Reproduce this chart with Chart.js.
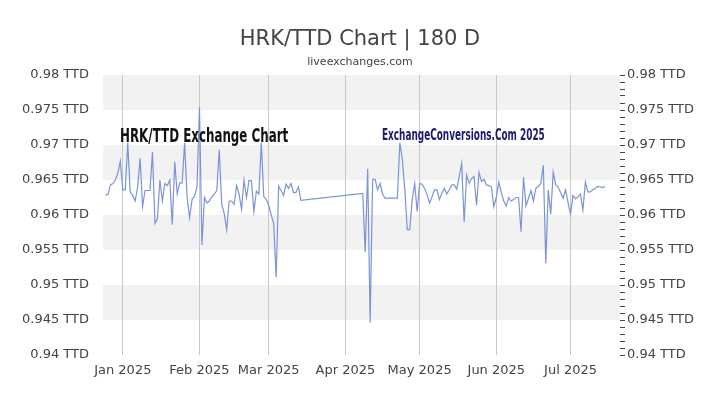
<!DOCTYPE html>
<html><head><meta charset="utf-8">
<script src="https://cdn.jsdelivr.net/npm/chart.js@4"></script>
<style>
body{margin:0;background:#fff;font-family:"DejaVu Sans",sans-serif}
#wrap{position:relative;width:720px;height:405px}
.t{position:absolute;left:0;width:720px;text-align:center;color:#444}
.wm{position:absolute;font-family:"DejaVu Sans Condensed","DejaVu Sans",sans-serif;font-weight:bold;transform:scaleX(.66);transform-origin:left}
</style></head><body>
<div id="wrap">
<canvas id="c" width="720" height="405"></canvas>
<div class="t" style="top:26px;font-size:21px">HRK/TTD Chart | 180 D</div>
<div class="t" style="top:55px;font-size:11px">liveexchanges.com</div>
<div class="wm" style="left:120px;top:123px;font-size:20px;color:#111">HRK/TTD Exchange Chart</div>
<div class="wm" style="left:382px;top:126px;font-size:15px;color:#1a1a6e">ExchangeConversions.Com 2025</div>
</div>
<script>
// ── Data ─────────────────────────────────────────────
const startDate = new Date(2024, 11, 24);
const dayCount  = 210;
const yTicks    = [0.94, 0.945, 0.95, 0.955, 0.96, 0.965, 0.97, 0.975, 0.98];

// Dec 24 .. Mar 14
const ratesA = [null,
  0.9629,0.9629,0.9643,0.9645,0.965,0.966,0.9677,
  0.9636,0.9636,0.9703,0.9633,0.9628,0.962,0.964,0.9681,0.9612,0.9635,0.9635,0.9635,0.969,0.9588,0.9595,0.965,0.962,0.9645,0.9642,0.965,0.9586,0.9676,0.963,0.9646,0.9646,0.9703,0.9625,0.9596,0.9622,0.9627,0.964,
  0.9754,0.9557,0.9625,0.9617,0.962,0.9626,0.963,0.9635,0.9693,0.9615,0.9602,0.9579,0.962,0.962,0.9615,0.9642,0.963,0.9608,0.965,0.9625,0.9649,0.9649,0.9605,0.9634,0.963,0.9703,0.9626,0.9622,
  0.9614,0.960,0.9588,0.9511,0.9641,0.9635,0.9628,0.9644,0.9638,0.9645,0.9632,0.9632,0.964,0.9621];
// Mar 15 .. Apr 7 : no quotes
const gapDays = 24;
// Apr 8 .. Apr 30
const ratesApr = [
  0.9631,0.9547,0.9666,0.9446,0.9651,0.9651,0.9636,0.9645,0.963,0.9624,0.9624,0.9624,0.9624,0.9624,0.9624,0.9703,0.968,0.9637,0.9579,0.9579,0.9622,0.9645,0.9605];
// May 1 .. Jul 15
const ratesMayJul = [
  0.9645,0.9644,0.9638,0.9629,0.9617,0.9626,0.9636,0.9636,0.9622,0.9631,
  0.9638,0.963,0.9636,0.9643,0.9643,0.9637,0.9655,0.9674,0.959,0.9657,
  0.9645,0.9652,0.9655,0.9614,0.9661,0.9648,0.9651,0.9643,0.9642,0.964,
  0.9612,0.9625,0.9647,0.9632,0.962,0.9613,0.9625,0.962,0.9622,0.9625,
  0.9625,0.9576,0.9654,0.9613,0.9624,0.9635,0.962,0.9638,0.9641,0.9645,
  0.9671,0.9531,0.9636,0.9601,0.9661,0.9643,0.964,0.9632,0.9624,0.9636,
  0.9618,0.9601,0.9628,0.9623,0.9626,0.963,0.9607,0.9647,0.9633,0.9633,
  0.9636,0.9638,0.9641,0.964,0.9639,0.9641];

const labels = [];
for (let i = 0; i < dayCount; i++) {
  const d = new Date(startDate); d.setDate(d.getDate() + i);
  labels.push(d);
}
const rates = ratesA.concat(new Array(gapDays).fill(null), ratesApr, ratesMayJul);
while (rates.length < dayCount) rates.push(null);
const monthName = d => d.toLocaleString('en-US', { month: 'short' }) + ' ' + d.getFullYear();

// ── Stripes plugin ───────────────────────────────────
const stripes = {
  id: 'stripes',
  beforeDraw(chart) {
    const { ctx, chartArea: a, scales: { y } } = chart;
    ctx.save(); ctx.fillStyle = '#f2f2f2';
    [0.975, 0.965, 0.955, 0.945].forEach(v => {
      const top = y.getPixelForValue(v + 0.005), bot = y.getPixelForValue(v);
      ctx.fillRect(a.left, top, a.right - a.left, bot - top);
    });
    ctx.restore();
  }
};

const tickFont = { size: 13, family: 'DejaVu Sans' };
const yLabel = v => {
  const r = Math.round(v * 1000);
  return r % 5 === 0 ? (+v.toFixed(3)) + ' TTD' : '';
};

new Chart(document.getElementById('c'), {
  type: 'line',
  data: { labels, datasets: [{
    data: rates, borderColor: '#7b93d8', borderWidth: 1.2, pointRadius: 0, tension: 0, spanGaps: true
  }]},
  options: {
    responsive: false, animation: false,
    layout: { padding: { top: 75, left: 0, right: 0, bottom: 0 } },
    plugins: { legend: { display: false }, tooltip: { enabled: false } },
    scales: {
      x: {
        offset: false,
        afterFit: s => { s.height = 50; },
        grid: { color: c => labels[c.index] && labels[c.index].getDate() === 1 ? '#c8c8c8' : 'rgba(0,0,0,0)', drawTicks: false },
        border: { display: false },
        ticks: { autoSkip: false, maxRotation: 0, color: '#444', font: tickFont, padding: 8,
          callback: (v, i) => labels[i].getDate() === 1 ? monthName(labels[i]) : '' }
      },
      y: {
        min: 0.94, max: 0.98, position: 'left',
        afterFit: s => { s.width = 103; },
        afterBuildTicks: s => { s.ticks = yTicks.map(v => ({ value: v })); },
        grid: { display: false }, border: { display: false },
        ticks: { color: '#444', font: tickFont, callback: yLabel, padding: 6 }
      },
      y2: {
        min: 0.94, max: 0.98, position: 'right',
        afterFit: s => { s.width = 100; },
        afterBuildTicks: s => { s.ticks = []; for (let k = 940; k <= 980; k++) s.ticks.push({ value: k / 1000 }); },
        grid: { drawOnChartArea: false, color: '#444', tickLength: 5 }, border: { display: false },
        ticks: { color: '#444', font: tickFont, callback: yLabel, autoSkip: false, padding: 2 }
      }
    }
  },
  plugins: [stripes]
});
</script>
</body></html>
